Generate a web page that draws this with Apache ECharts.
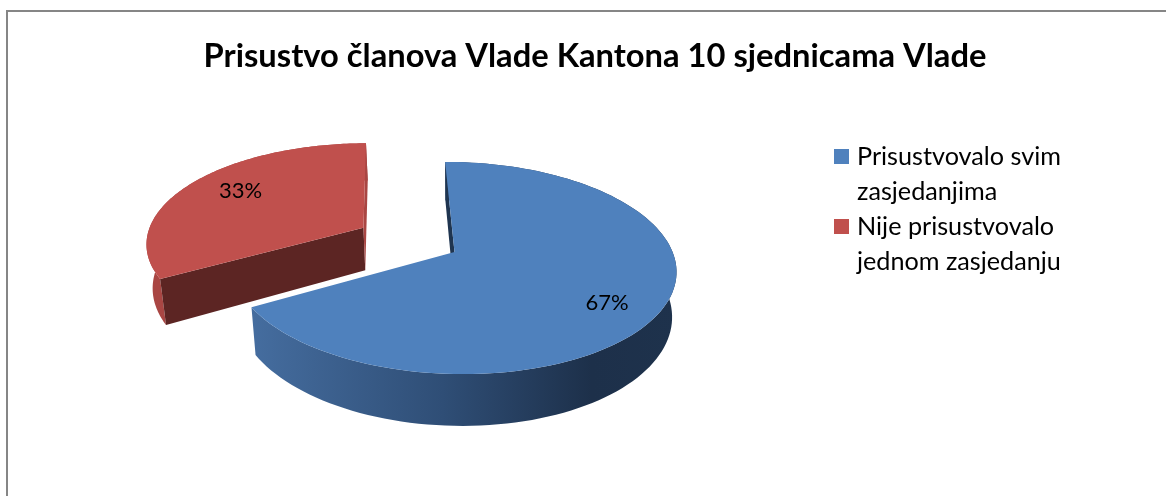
<!DOCTYPE html>
<html><head><meta charset="utf-8">
<style>html,body{margin:0;padding:0;background:#fff}#c{width:1166px;height:496px}</style>
<script src="https://cdn.jsdelivr.net/npm/echarts@6/dist/echarts.min.js"></script>
</head><body><div id="c"></div>
<script>
const titleText = 'Prisustvo članova Vlade Kantona 10 sjednicama Vlade';
const categories = ['Prisustvovalo svim\nzasjedanjima', 'Nije prisustvovalo\njednom zasjedanju'];
const values = [67, 33];
const faceColors = ['#4f81bd', '#c0504d'];
const cutColors = ['#1f3550', '#5c2523'];
const endCutColors = [null, '#a94643'];
const wallFills = [
  {type:'linear',x:0,y:0,x2:1,y2:0,colorStops:[
    {offset:0,color:'#456d9f'},{offset:.45,color:'#2f4e76'},{offset:.8,color:'#1d304a'},{offset:1,color:'#1e324c'}]},
  '#a94643'
];

// perspective view of the pie plane
const view = {cx:454.5, cy:252, R:219.5, Ry:103.6, k:0.151, tilt:4, depth:44, shrink:0.98, start:-2.8};
const explode = [0, 0.485];
const labelT = 0.74;
const labelShift = [[1,10],[5,-3]];

function project(u, v, lower) {
  const s = 1 / (1 + view.k * v);
  let x = view.cx + view.R * u * s;
  let y = view.cy - view.Ry * v * s + view.tilt * u * s;
  if (lower) { x = view.cx + (x - view.cx) * view.shrink; y += view.depth * s; }
  return [x, y];
}
const total = values.reduce((a, b) => a + b, 0);
function sliceAngles(i) {
  let a = view.start;
  for (let j = 0; j < i; j++) a += values[j] / total * 360;
  return [a, a + values[i] / total * 360];
}
function sliceGeom(i) {
  const [a0, a1] = sliceAngles(i);
  const rad = d => d * Math.PI / 180;
  const mid = rad((a0 + a1) / 2);
  const ou = explode[i] * Math.sin(mid), ov = explode[i] * Math.cos(mid);
  const top = [], low = [], n = 120;
  for (let j = 0; j <= n; j++) {
    const t = rad(a0 + (a1 - a0) * j / n);
    top.push(project(ou + Math.sin(t), ov + Math.cos(t), false));
    low.push(project(ou + Math.sin(t), ov + Math.cos(t), true));
  }
  const apex = project(ou, ov, false), apexLow = project(ou, ov, true);
  const lt = labelT;
  const lp = project(ou + lt * Math.sin(mid), ov + lt * Math.cos(mid), false);
  return {top, low, apex, apexLow, label:[lp[0] + labelShift[i][0], lp[1] + labelShift[i][1]]};
}
function renderSlice(i) {
  return function (params, api) {
    const g = sliceGeom(i);
    const n = g.top.length - 1;
    const poly = (pts, fill) => ({type:'polygon', shape:{points:pts}, style:{fill, stroke:null}});
    const parts = [
      poly(g.top.concat(g.low.slice().reverse()), wallFills[i]),
      poly([g.apex, g.top[0], g.low[0], g.apexLow], cutColors[i])
    ];
    if (endCutColors[i]) parts.push(poly([g.apex, g.top[n], g.low[n], g.apexLow], endCutColors[i]));
    parts.push(poly([g.apex].concat(g.top), faceColors[i]));
    parts.push({type:'text', z2:10, style:{x:g.label[0], y:g.label[1], text:Math.round(api.value(0)) + '%',
        font:'22px Lato', fill:'#000', align:'center', verticalAlign:'middle'}});
    return {type:'group', silent:true, children:parts};
  };
}

const chart = echarts.init(document.getElementById('c'), null, {renderer:'canvas'});
chart.setOption({
  animation:false,
  backgroundColor:'#fff',
  title:{text:titleText, left:590, top:35, textAlign:'center',
    textStyle:{fontFamily:'Lato', fontWeight:'bold', fontSize:32.7, color:'#000'}},
  legend:{left:829, top:134, orient:'vertical', selectedMode:false, itemGap:0, itemWidth:18, itemHeight:50,
    icon:'path://M0 0H15V15H0Z M18 50L18 50',
    data:categories,
    textStyle:{fontFamily:'Lato', fontSize:25.2, lineHeight:35, color:'#000'}},
  graphic:[{type:'polyline', silent:true, shape:{points:[[7,496],[7,11],[1166,11]]},
    style:{stroke:'#868686', lineWidth:2, fill:null}}],
  series:categories.map((name, i) => ({
    type:'custom', name, coordinateSystem:'none',
    itemStyle:{color:faceColors[i]},
    renderItem:renderSlice(i),
    data:[values[i]]
  }))
});
</script></body></html>
